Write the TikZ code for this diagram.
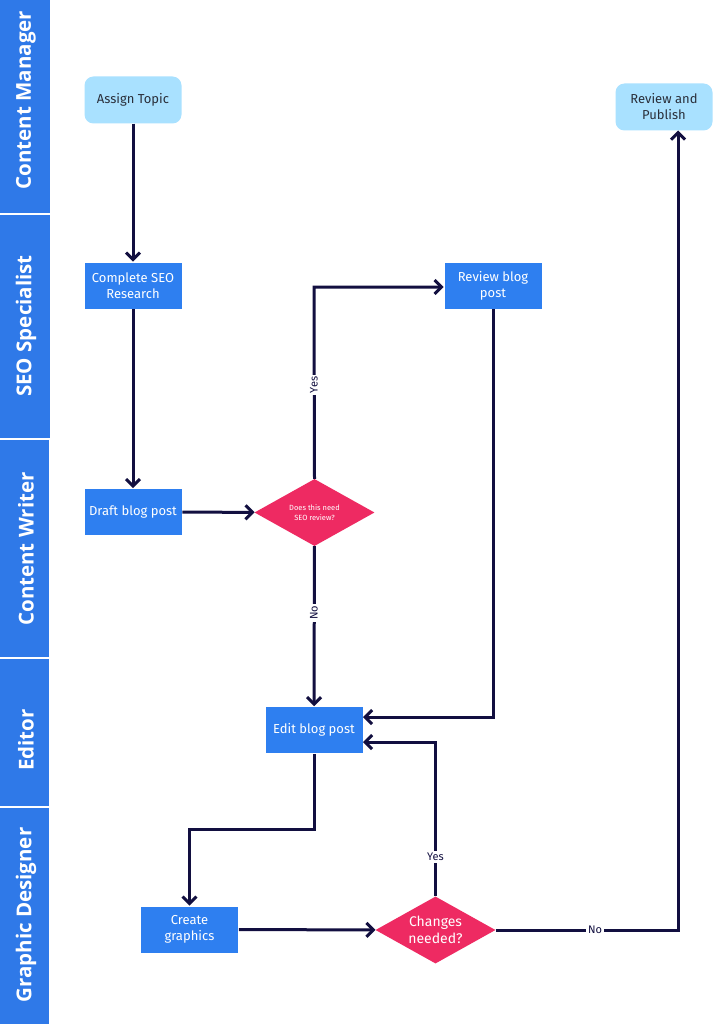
\documentclass[tikz,border=0pt]{standalone}
\usepackage{fontspec}
\setmainfont{Fira Sans}
\newfontfamily\lanefont{Open Sans}
\usetikzlibrary{arrows.meta,shapes.geometric}
\definecolor{lane}{HTML}{2F79E8}
\definecolor{nodeblue}{HTML}{2E7FF0}
\definecolor{light}{HTML}{A9E1FF}
\definecolor{pink}{HTML}{EE2A62}
\definecolor{navy}{HTML}{120F40}
\definecolor{dark}{HTML}{2A2F3A}
\tikzset{
  lanebox/.style={fill=lane,draw=none},
  lanetext/.style={rotate=90,text=white,font=\lanefont\bfseries\fontsize{20.5}{24}\selectfont},
  task/.style={fill=nodeblue,draw=white,line width=0.6pt,minimum width=98pt,minimum height=47pt,text=white,align=center,font=\fontsize{13}{16}\selectfont,inner sep=2pt},
  term/.style={fill=light,draw=none,rounded corners=9pt,minimum width=97pt,minimum height=47pt,text=dark,align=center,font=\fontsize{13}{16}\selectfont},
  decision/.style={diamond,fill=pink,draw=none,aspect=1.78,minimum width=120pt,minimum height=67pt,inner sep=0pt,text=white,align=center},
  flow/.style={draw=navy,line width=3pt,-{Straight Barb[length=7pt,width=14pt]}},
  lbl/.style={fill=white,text=navy,font=\fontsize{11}{13}\selectfont,inner sep=2pt}
}
\begin{document}
\begin{tikzpicture}[x=1pt,y=-1pt]
\useasboundingbox (0,0) rectangle (723,1024);
\fill[white] (0,0) rectangle (723,1024);
% lanes
\fill[lanebox] (0,0) rectangle (50,213);
\fill[lanebox] (0,215) rectangle (50,438);
\fill[lanebox] (0,440) rectangle (49,657);
\fill[lanebox] (0,659) rectangle (49,806);
\fill[lanebox] (0,808) rectangle (49,1024);
\node[lanetext] (l1) at (26,100) {Content Manager};
\node[lanetext] (l2) at (26,326) {SEO Specialist};
\node[lanetext] (l3) at (26,549) {Content Writer};
\node[lanetext] (l4) at (26,740) {Editor};
\node[lanetext] (l5) at (26,915) {Graphic Designer};
% nodes
\node[term] (assign) at (133,100) {Assign Topic};
\node[term] (publish) at (664,107) {Review and\\Publish};
\node[task] (seo) at (133,285.5) {Complete SEO\\Research};
\node[task] (review) at (493,285.5) {Review blog\\post};
\node[task] (draft) at (133,512) {Draft blog post};
\node[decision,font=\fontsize{7.5}{9.5}\selectfont] (dec1) at (314.5,512.5) {Does this need\\SEO review?};
\node[task] (edit) at (314,730) {Edit blog post};
\node[task] (graphics) at (189.5,929.5) {Create\\graphics};
\node[decision,font=\fontsize{14}{17}\selectfont] (dec2) at (435.5,930) {Changes\\needed?};
% connectors
\coordinate (c1) at (314,287);
\coordinate (c2) at (493,717);
\coordinate (c3) at (314,829);
\coordinate (c4) at (189.5,829);
\coordinate (c5) at (435.5,742);
\coordinate (c6) at (678,930);
\coordinate (pubin) at (678,130.5);
\coordinate (editr1) at (363,717);
\coordinate (editr2) at (363,742);
\draw[flow] (assign) -- (seo);
\draw[flow] (seo) -- (draft);
\draw[flow] (draft) -- (dec1);
\draw[flow] (dec1.north) -- (c1) -- (review.west |- c1);
\draw[flow] (dec1) -- (edit);
\draw[flow] (review.south -| c2) -- (c2) -- (editr1);
\draw[flow] (edit) -- (c3) -- (c4) -- (graphics);
\draw[flow] (graphics) -- (dec2);
\draw[flow] (dec2.north) -- (c5) -- (editr2);
\draw[flow] (dec2.east) -- (c6) -- (pubin);
% labels
\node[lbl,rotate=90] (yes1) at (314,385) {Yes};
\node[lbl,rotate=90] (no1) at (314,613) {No};
\node[lbl] (yes2) at (435.5,857) {Yes};
\node[lbl] (no2) at (595,930) {No};
\end{tikzpicture}
\end{document}
